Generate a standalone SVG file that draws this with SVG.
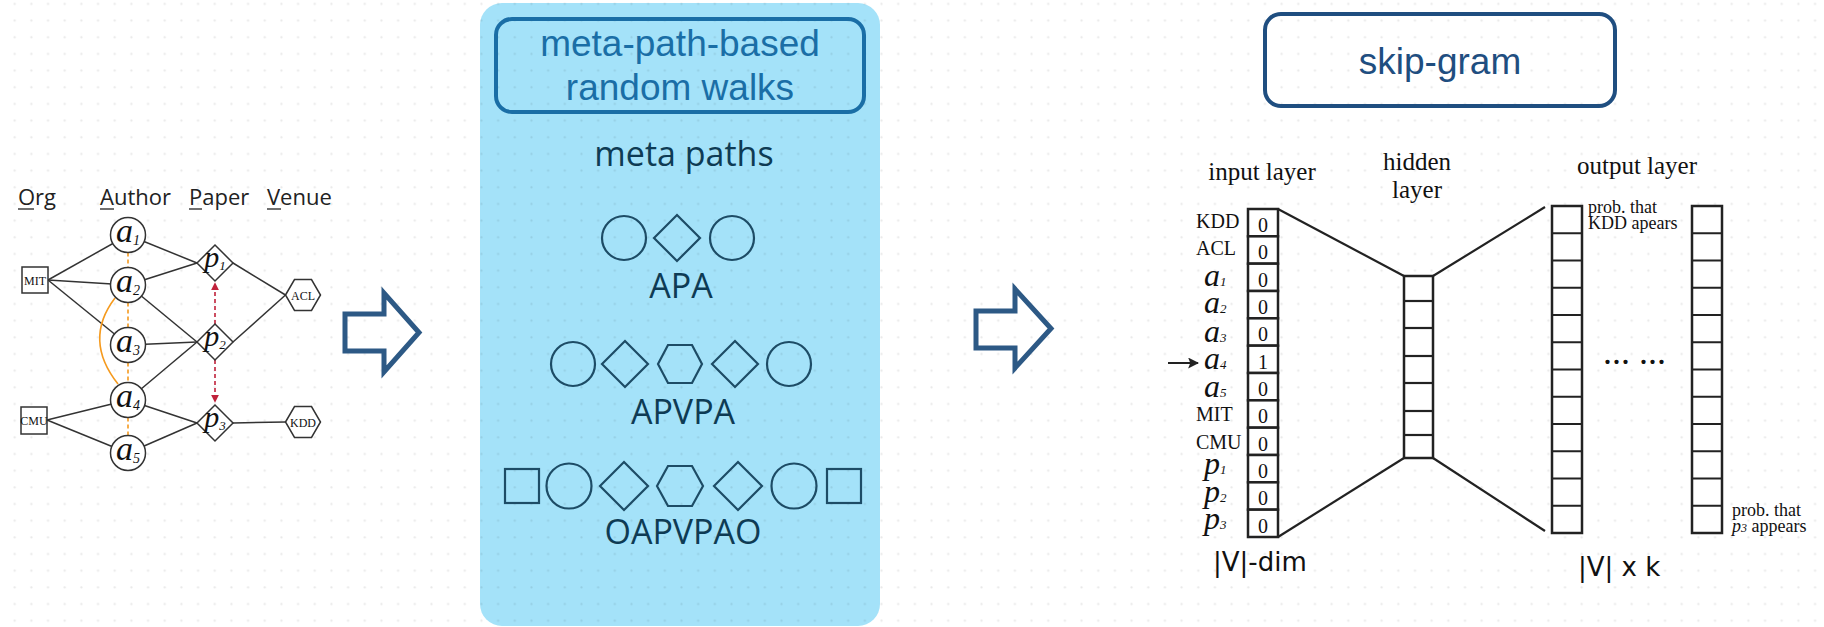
<svg xmlns="http://www.w3.org/2000/svg" width="1824" height="627" viewBox="0 0 1824 627">
<defs>
<pattern id="dots" patternUnits="userSpaceOnUse" x="6.37" y="-4.33" width="16.67" height="16.67">
<circle cx="8.33" cy="8.33" r="1.1" fill="#000" fill-opacity="0.09"/>
</pattern>
<marker id="redhead" viewBox="0 0 10 10" refX="9" refY="5" markerWidth="8" markerHeight="8" markerUnits="userSpaceOnUse" orient="auto">
<path d="M0,0 L10,5 L0,10 z" fill="#c0223b"/>
</marker>
<marker id="blackhead" viewBox="0 0 10 10" refX="9" refY="5" markerWidth="11" markerHeight="11" markerUnits="userSpaceOnUse" orient="auto">
<path d="M0,0 L10,5 L0,10 L2,5 z" fill="#222"/>
</marker>
<style>
.edge{stroke:#333;stroke-width:1.5;fill:none}
.node{fill:#fff;stroke:#333;stroke-width:1.5}
.orange{stroke:#f59a1e;stroke-width:1.6;fill:none}
.odash{stroke:#f59a1e;stroke-width:1.6;stroke-dasharray:4 3;fill:none}
.rdash{stroke:#c0223b;stroke-width:1.6;stroke-dasharray:4 3;fill:none}
.hdr{font-family:"Open Sans","Liberation Sans",sans-serif;font-size:22px;fill:#222}
.ul{stroke:#222;stroke-width:1.3}
.ital{font-family:"Liberation Serif",serif;font-style:italic;fill:#111}
.small{font-family:"Liberation Serif",serif;font-size:12px;fill:#111}
.mp{fill:none;stroke:#1d4c66;stroke-width:2.2}
.mptext{font-family:"Open Sans","Liberation Sans",sans-serif;font-size:34px;fill:#0e3b54;text-anchor:middle}
.bigarrow{fill:none;stroke:#2d5985;stroke-width:5;stroke-linejoin:miter}
.serif{font-family:"Liberation Serif",serif;fill:#111}
.cell{fill:#fff;stroke:#222;stroke-width:2.5}
.nn{stroke:#222;stroke-width:2.2;fill:none}
.dim{font-family:"DejaVu Sans",sans-serif;font-size:26px;fill:#111}
</style>
</defs>
<rect width="1824" height="627" fill="#fff"/>
<rect x="480" y="3" width="400" height="623" rx="22" fill="#a4e2f9"/>
<rect width="1824" height="627" fill="url(#dots)"/>

<!-- LEFT: heterogeneous graph -->
<g id="headers">
<text class="hdr" x="18" y="205">Org</text>
<text class="hdr" x="100" y="205">Author</text>
<text class="hdr" x="189" y="205">Paper</text>
<text class="hdr" x="267" y="205">Venue</text>
<line class="ul" x1="18" y1="209" x2="34" y2="209"/>
<line class="ul" x1="100" y1="209" x2="114" y2="209"/>
<line class="ul" x1="189" y1="209" x2="202" y2="209"/>
<line class="ul" x1="267" y1="209" x2="281" y2="209"/>
</g>

<g id="graph-edges">
<line class="edge" x1="48" y1="280" x2="128" y2="235"/>
<line class="edge" x1="48" y1="280" x2="128" y2="285"/>
<line class="edge" x1="48" y1="280" x2="128" y2="345"/>
<line class="edge" x1="47" y1="420" x2="128" y2="400"/>
<line class="edge" x1="47" y1="420" x2="128" y2="453"/>
<line class="edge" x1="128" y1="235" x2="197" y2="263"/>
<line class="edge" x1="128" y1="285" x2="197" y2="263"/>
<line class="edge" x1="128" y1="285" x2="197" y2="342"/>
<line class="edge" x1="128" y1="345" x2="197" y2="342"/>
<line class="edge" x1="128" y1="400" x2="197" y2="342"/>
<line class="edge" x1="128" y1="400" x2="197" y2="423"/>
<line class="edge" x1="128" y1="453" x2="197" y2="423"/>
<line class="edge" x1="233" y1="263" x2="285.5" y2="295"/>
<line class="edge" x1="233" y1="342" x2="285.5" y2="295"/>
<line class="edge" x1="233" y1="423" x2="285.5" y2="422"/>
<path class="orange" d="M115,298 Q83,340 118,384"/>
<line class="odash" x1="128" y1="252.5" x2="128" y2="267.5"/>
<line class="odash" x1="128" y1="302.5" x2="128" y2="327.5"/>
<line class="odash" x1="128" y1="362.5" x2="128" y2="382.5"/>
<line class="odash" x1="128" y1="417.5" x2="128" y2="435.5"/>
<line class="rdash" x1="215" y1="324" x2="215" y2="283" marker-end="url(#redhead)"/>
<line class="rdash" x1="215" y1="360" x2="215" y2="402" marker-end="url(#redhead)"/>
</g>

<g id="org-mit"><rect class="node" x="22" y="267" width="26" height="26"/><text class="small" x="35" y="284.5" text-anchor="middle">MIT</text></g>
<g id="org-cmu"><rect class="node" x="21" y="407" width="26" height="27"/><text class="small" x="34" y="424.5" text-anchor="middle" font-size="11.5">CMU</text></g>

<g id="a1"><circle class="node" cx="128" cy="235" r="17.5"/><text class="ital" x="128" y="242" text-anchor="middle" font-size="34">a<tspan font-size="14" dy="3">1</tspan></text></g>
<g id="a2"><circle class="node" cx="128" cy="285" r="17.5"/><text class="ital" x="128" y="292" text-anchor="middle" font-size="34">a<tspan font-size="14" dy="3">2</tspan></text></g>
<g id="a3"><circle class="node" cx="128" cy="345" r="17.5"/><text class="ital" x="128" y="352" text-anchor="middle" font-size="34">a<tspan font-size="14" dy="3">3</tspan></text></g>
<g id="a4"><circle class="node" cx="128" cy="400" r="17.5"/><text class="ital" x="128" y="407" text-anchor="middle" font-size="34">a<tspan font-size="14" dy="3">4</tspan></text></g>
<g id="a5"><circle class="node" cx="128" cy="453" r="17.5"/><text class="ital" x="128" y="460" text-anchor="middle" font-size="34">a<tspan font-size="14" dy="3">5</tspan></text></g>

<g id="p1"><polygon class="node" points="197,263 215,245 233,263 215,281"/><text class="ital" x="215" y="267" text-anchor="middle" font-size="30">p<tspan font-size="13" dy="3">1</tspan></text></g>
<g id="p2"><polygon class="node" points="197,342 215,324 233,342 215,360"/><text class="ital" x="215" y="346" text-anchor="middle" font-size="30">p<tspan font-size="13" dy="3">2</tspan></text></g>
<g id="p3"><polygon class="node" points="197,423 215,405 233,423 215,441"/><text class="ital" x="215" y="427" text-anchor="middle" font-size="30">p<tspan font-size="13" dy="3">3</tspan></text></g>

<g id="v-acl"><polygon class="node" points="285.5,295 294.5,279.5 311.5,279.5 320.5,295 311.5,310.5 294.5,310.5"/><text class="small" x="303" y="299.5" text-anchor="middle">ACL</text></g>
<g id="v-kdd"><polygon class="node" points="285.5,422 294.5,406.5 311.5,406.5 320.5,422 311.5,437.5 294.5,437.5"/><text class="small" x="303" y="426.5" text-anchor="middle">KDD</text></g>

<g id="arrow1"><polygon class="bigarrow" points="345,314 384,314 384,293 419,332.5 384,372 384,351 345,351"/></g>

<!-- MIDDLE panel -->
<g id="rw-title">
<rect x="496" y="19" width="368" height="93" rx="16" fill="none" stroke="#1a6ea6" stroke-width="4"/>
<text x="680" y="56" text-anchor="middle" font-family="Liberation Sans, Arial, sans-serif" font-size="37" fill="#1a6ea6">meta-path-based</text>
<text x="680" y="100" text-anchor="middle" font-family="Liberation Sans, Arial, sans-serif" font-size="37" fill="#1a6ea6">random walks</text>
</g>
<g id="meta-paths-label"><text class="mptext" x="684" y="166" font-size="32">meta paths</text></g>

<g id="mp-apa">
<circle class="mp" cx="624" cy="238" r="22"/>
<polygon class="mp" points="654,238 677,215 700,238 677,261"/>
<circle class="mp" cx="732" cy="238" r="22"/>
<text class="mptext" x="681" y="298">APA</text>
</g>
<g id="mp-apvpa">
<circle class="mp" cx="573" cy="364" r="22"/>
<polygon class="mp" points="602,364 625,341 648,364 625,387"/>
<polygon class="mp" points="658,364 668,345 692,345 702,364 692,383 668,383"/>
<polygon class="mp" points="712,364 735,341 758,364 735,387"/>
<circle class="mp" cx="789" cy="364" r="22"/>
<text class="mptext" x="683" y="424">APVPA</text>
</g>
<g id="mp-oapvpao">
<rect class="mp" x="505" y="469" width="34" height="34"/>
<circle class="mp" cx="569" cy="486" r="22.5"/>
<polygon class="mp" points="600,486 624,462 648,486 624,510"/>
<polygon class="mp" points="657,486 668,466 692,466 703,486 692,506 668,506"/>
<polygon class="mp" points="714,486 738,462 762,486 738,510"/>
<circle class="mp" cx="794" cy="486" r="22.5"/>
<rect class="mp" x="827" y="469" width="34" height="34"/>
<text class="mptext" x="683" y="544">OAPVPAO</text>
</g>

<g id="arrow2"><polygon class="bigarrow" points="976,311 1015,311 1015,289 1051,328.5 1015,368 1015,348 976,348"/></g>

<!-- RIGHT: skip-gram -->
<g id="sg-title">
<rect x="1265" y="14" width="350" height="92" rx="16" fill="none" stroke="#1f4e80" stroke-width="4"/>
<text x="1440" y="74" text-anchor="middle" font-family="Liberation Sans, Arial, sans-serif" font-size="37" fill="#1f4e80">skip-gram</text>
</g>

<g id="nn-connectors">
<line class="nn" x1="1278" y1="209" x2="1404" y2="276"/>
<line class="nn" x1="1278" y1="537" x2="1404" y2="458"/>
<line class="nn" x1="1433" y1="276" x2="1545" y2="207"/>
<line class="nn" x1="1433" y1="458" x2="1545" y2="531"/>
<line x1="1168" y1="363" x2="1198" y2="363" stroke="#222" stroke-width="2" marker-end="url(#blackhead)"/>
</g>

<g id="input-layer">
<text class="serif" x="1262" y="180" text-anchor="middle" font-size="25">input layer</text>
<rect class="cell" x="1248" y="209" width="30" height="27.33"/>
<rect class="cell" x="1248" y="236.33" width="30" height="27.33"/>
<rect class="cell" x="1248" y="263.67" width="30" height="27.33"/>
<rect class="cell" x="1248" y="291" width="30" height="27.33"/>
<rect class="cell" x="1248" y="318.33" width="30" height="27.33"/>
<rect class="cell" x="1248" y="345.67" width="30" height="27.33"/>
<rect class="cell" x="1248" y="373" width="30" height="27.33"/>
<rect class="cell" x="1248" y="400.33" width="30" height="27.33"/>
<rect class="cell" x="1248" y="427.67" width="30" height="27.33"/>
<rect class="cell" x="1248" y="455" width="30" height="27.33"/>
<rect class="cell" x="1248" y="482.33" width="30" height="27.33"/>
<rect class="cell" x="1248" y="509.67" width="30" height="27.33"/>
<g class="serif" font-size="20" text-anchor="middle">
<text x="1263" y="232">0</text><text x="1263" y="259.3">0</text><text x="1263" y="286.7">0</text><text x="1263" y="314">0</text>
<text x="1263" y="341.3">0</text><text x="1263" y="368.7">1</text><text x="1263" y="396">0</text><text x="1263" y="423.3">0</text>
<text x="1263" y="450.7">0</text><text x="1263" y="478">0</text><text x="1263" y="505.3">0</text><text x="1263" y="532.7">0</text>
</g>
<g class="serif" font-size="20">
<text x="1196" y="228">KDD</text>
<text x="1196" y="255">ACL</text>
<text x="1196" y="421">MIT</text>
<text x="1196" y="449">CMU</text>
</g>
<g class="ital" font-size="32">
<text x="1204" y="286">a<tspan font-size="13">1</tspan></text>
<text x="1204" y="313">a<tspan font-size="13">2</tspan></text>
<text x="1204" y="342">a<tspan font-size="13">3</tspan></text>
<text x="1204" y="369">a<tspan font-size="13">4</tspan></text>
<text x="1204" y="397">a<tspan font-size="13">5</tspan></text>
<text x="1204" y="474">p<tspan font-size="13">1</tspan></text>
<text x="1204" y="502">p<tspan font-size="13">2</tspan></text>
<text x="1204" y="529">p<tspan font-size="13">3</tspan></text>
</g>
<text class="dim" x="1213" y="571">|V|-dim</text>
</g>

<g id="hidden-layer">
<text class="serif" x="1417" y="170" text-anchor="middle" font-size="25">hidden</text>
<text class="serif" x="1417" y="198" text-anchor="middle" font-size="25">layer</text>
<rect class="cell" x="1404" y="276" width="29" height="182"/>
<g class="nn"><line x1="1404" y1="301" x2="1433" y2="301"/><line x1="1404" y1="328" x2="1433" y2="328"/><line x1="1404" y1="356" x2="1433" y2="356"/><line x1="1404" y1="383" x2="1433" y2="383"/><line x1="1404" y1="411" x2="1433" y2="411"/><line x1="1404" y1="435" x2="1433" y2="435"/></g>
</g>

<g id="output-layer">
<text class="serif" x="1637" y="174" text-anchor="middle" font-size="25">output layer</text>
<rect class="cell" x="1552" y="206" width="30" height="327"/>
<rect class="cell" x="1692" y="206" width="30" height="327"/>
<g class="nn">
<path d="M1552,233.25h30M1552,260.5h30M1552,287.75h30M1552,315h30M1552,342.25h30M1552,369.5h30M1552,396.75h30M1552,424h30M1552,451.25h30M1552,478.5h30M1552,505.75h30"/>
<path d="M1692,233.25h30M1692,260.5h30M1692,287.75h30M1692,315h30M1692,342.25h30M1692,369.5h30M1692,396.75h30M1692,424h30M1692,451.25h30M1692,478.5h30M1692,505.75h30"/>
</g>
<text class="serif" x="1588" y="213" font-size="18">prob. that</text>
<text class="serif" x="1588" y="229" font-size="18">KDD apears</text>
<text class="serif" x="1732" y="516" font-size="18">prob. that</text>
<text class="serif" x="1732" y="532" font-size="18"><tspan font-style="italic">p</tspan><tspan font-style="italic" font-size="12">3</tspan> appears</text>
<text class="serif" x="1603" y="364" font-size="36">... ...</text>
<text class="dim" x="1578" y="576">|V| x k</text>
</g>
</svg>
